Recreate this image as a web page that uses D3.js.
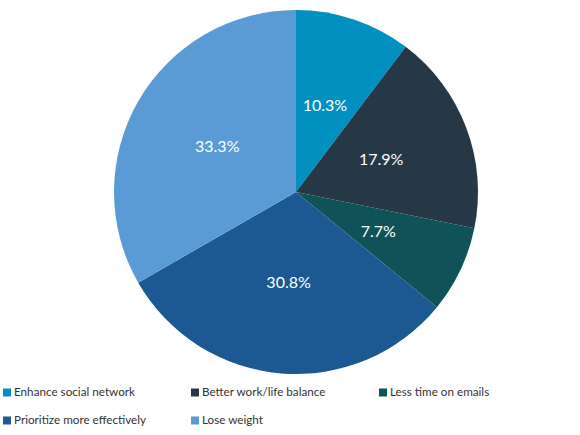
<!DOCTYPE html>
<html>
<head>
<meta charset="utf-8">
<script src="https://cdn.jsdelivr.net/npm/d3@7"></script>
<style>
  html, body { margin: 0; padding: 0; background: #fff; }
  svg { display: block; font-family: Lato, "Open Sans", sans-serif; }
</style>
</head>
<body>
<svg id="chart" width="580" height="435"></svg>
<script>
const categories = ["Enhance social network", "Better work/life balance", "Less time on emails", "Prioritize more effectively", "Lose weight"];
const values = [10.3, 17.9, 7.7, 30.8, 33.3];
const labels = ["10.3%", "17.9%", "7.7%", "30.8%", "33.3%"];
const colors = ["#0091C1", "#263746", "#0F5257", "#1C5891", "#5B9BD5"];

const svg = d3.select("#chart");
const cx = 296, cy = 192, r = 182;

const data = categories.map((c, i) => ({ cat: c, value: values[i], label: labels[i], color: colors[i] }));

const pie = d3.pie().sort(null).value(d => d.value);
const arc = d3.arc().innerRadius(0).outerRadius(r);
const arcs = pie(data);

const g = svg.append("g").attr("transform", `translate(${cx},${cy})`);
g.selectAll("path.slice").data(arcs).enter().append("path")
  .attr("class", "slice")
  .attr("d", arc)
  .attr("fill", d => d.data.color);

g.selectAll("text.lbl").data(arcs).enter().append("text")
  .attr("class", "lbl")
  .attr("transform", d => `translate(${arc.centroid(d)})`)
  .attr("text-anchor", "middle")
  .attr("dy", "0.35em")
  .attr("fill", "#fff")
  .attr("font-size", 16)
  .text(d => d.data.label);

// Legend
const colX = [3, 191, 379];
const rowY = [392, 420];
const legend = svg.append("g");
const items = legend.selectAll("g.item").data(data).enter().append("g")
  .attr("class", "item")
  .attr("transform", (d, i) => `translate(${colX[i % 3]},${rowY[Math.floor(i / 3)]})`);
items.append("rect")
  .attr("x", 0).attr("y", -3.5)
  .attr("width", 8).attr("height", 8)
  .attr("fill", d => d.color);
items.append("text")
  .attr("x", 11).attr("y", 0)
  .attr("dy", "0.38em")
  .attr("font-size", 11.7)
  .attr("fill", "#333")
  .text(d => d.cat);
</script>
</body>
</html>
